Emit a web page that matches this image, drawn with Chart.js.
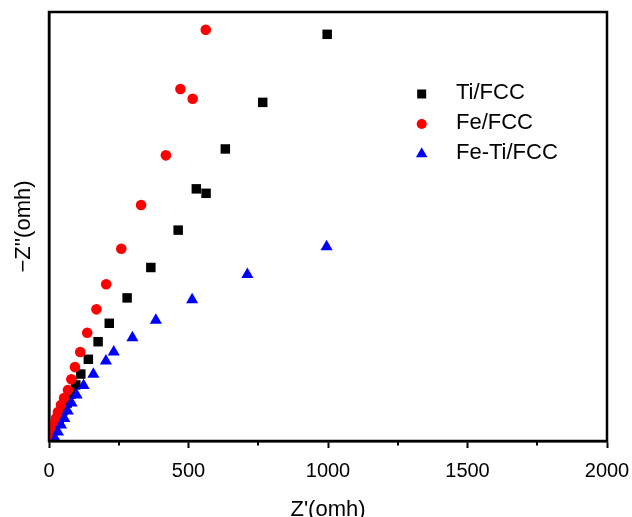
<!DOCTYPE html>
<html>
<head>
<meta charset="utf-8">
<script src="https://cdn.jsdelivr.net/npm/chart.js@4/dist/chart.umd.min.js"></script>
<style>
html,body{margin:0;padding:0;background:#fff;}
#wrap{width:632px;height:517px;position:relative;}
</style>
</head>
<body>
<div id="wrap"><canvas id="c" width="632" height="517"></canvas></div>
<script>
// Data (Z' , -Z'') in ohm
const seriesNames = ['Ti/FCC', 'Fe/FCC', 'Fe-Ti/FCC'];
const tiX = [997, 766, 632, 528, 563, 463, 365, 280, 216, 176, 141, 114, 96, 79, 65, 50, 36, 22, 11];
const tiY = [1458, 1214, 1047, 904, 888, 756, 622, 513, 422, 356, 293, 240, 201, 168, 136, 108, 75, 47, 22];
const feX = [562, 471, 515, 419, 330, 259, 205, 170, 137, 112, 93, 80, 68, 54, 43, 32, 25, 18, 11, 7];
const feY = [1474, 1262, 1227, 1024, 846, 689, 562, 472, 388, 319, 265, 221, 183, 154, 129, 104, 82, 61, 39, 22];
const fetiX = [995, 711, 513, 383, 299, 232, 204, 159, 124, 99, 81, 67, 55, 43, 32, 23];
const fetiY = [696, 597, 506, 433, 370, 319, 287, 239, 199, 165, 136, 108, 81, 57, 32, 7];
const xTicks = [0, 500, 1000, 1500, 2000];
const minorTicks = [250, 750, 1250, 1750];

const toPts = (xs, ys) => xs.map((x, i) => ({x: x, y: ys[i]}));

const styles = [
  {color: '#000000', pointStyle: 'rect', radius: 6.7},
  {color: '#ff0000', pointStyle: 'circle', radius: 5.3},
  {color: '#0000ff', pointStyle: 'triangle', radius: 7}
];
const dataArr = [toPts(tiX, tiY), toPts(feX, feY), toPts(fetiX, fetiY)];

const datasets = seriesNames.map((name, i) => ({
  label: name,
  data: dataArr[i],
  showLine: false,
  pointStyle: styles[i].pointStyle,
  pointRadius: styles[i].radius,
  pointHoverRadius: styles[i].radius,
  pointBackgroundColor: styles[i].color,
  pointBorderColor: styles[i].color,
  pointBorderWidth: 0,
  order: 3 - i
}));

const FONT = '"Liberation Sans", Arial, sans-serif';

const framePlugin = {
  id: 'frame',
  afterDraw(chart) {
    const {ctx, chartArea: a, scales} = chart;
    ctx.save();
    // frame
    ctx.strokeStyle = '#000';
    ctx.lineWidth = 2.5;
    ctx.strokeRect(a.left, a.top, a.right - a.left, a.bottom - a.top);
    // minor ticks
    ctx.lineWidth = 2;
    ctx.beginPath();
    minorTicks.forEach(v => {
      const px = Math.round(scales.x.getPixelForValue(v));
      ctx.moveTo(px, a.bottom);
      ctx.lineTo(px, a.bottom + 4.5);
    });
    ctx.stroke();
    // legend
    const lx = 421.7, ly = 94, gap = 30;
    ctx.font = '22px ' + FONT;
    ctx.textBaseline = 'middle';
    ctx.textAlign = 'left';
    seriesNames.forEach((name, i) => {
      const y = ly + i * gap;
      ctx.fillStyle = styles[i].color;
      ctx.strokeStyle = styles[i].color;
      Chart.helpers.drawPoint(ctx, {pointStyle: styles[i].pointStyle, radius: styles[i].radius * 0.95, borderWidth: 0, rotation: 0}, lx, y);
      ctx.fillStyle = '#000';
      ctx.fillText(name, 456, y - 1.5);
    });
    ctx.restore();
  }
};

new Chart(document.getElementById('c'), {
  type: 'scatter',
  data: {datasets},
  plugins: [framePlugin],
  options: {
    responsive: false,
    animation: false,
    events: [],
    layout: {padding: {left: 0, right: 25, top: 12, bottom: 0}},
    plugins: {legend: {display: false}, tooltip: {enabled: false}},
    scales: {
      x: {
        type: 'linear',
        min: 0, max: 2000,
        afterFit(s) { s.height = 76; s.paddingLeft = 0; s.paddingRight = 0; },
        afterBuildTicks(s) { s.ticks = xTicks.concat(minorTicks).sort((a, b) => a - b).map(v => ({value: v})); },
        border: {display: true, color: '#000', width: 2.5},
        grid: {
          display: true, drawOnChartArea: false, drawTicks: true, tickLength: 7,
          tickWidth: 2,
          tickColor: c => (c.tick && xTicks.includes(c.tick.value)) ? '#000' : 'rgba(0,0,0,0)'
        },
        ticks: {
          autoSkip: false, maxRotation: 0, padding: 11,
          color: '#000',
          font: {family: FONT, size: 20},
          callback: v => xTicks.includes(v) ? String(v) : ''
        },
        title: {
          display: true, text: "Z'(omh)", color: '#000',
          font: {family: FONT, size: 22, lineHeight: 1},
          padding: {top: 0, bottom: -3.5}
        }
      },
      y: {
        type: 'linear',
        min: 0, max: 1538,
        afterFit(s) { s.width = 49; s.paddingTop = 0; s.paddingBottom = 0; },
        border: {display: true, color: '#000', width: 2.5},
        grid: {display: false},
        ticks: {display: false},
        title: {
          display: true, text: "\u2212Z''(omh)", color: '#000',
          font: {family: FONT, size: 22, lineHeight: 1},
          padding: {top: 12.5, bottom: 0}
        }
      }
    }
  }
});
</script>
</body>
</html>
